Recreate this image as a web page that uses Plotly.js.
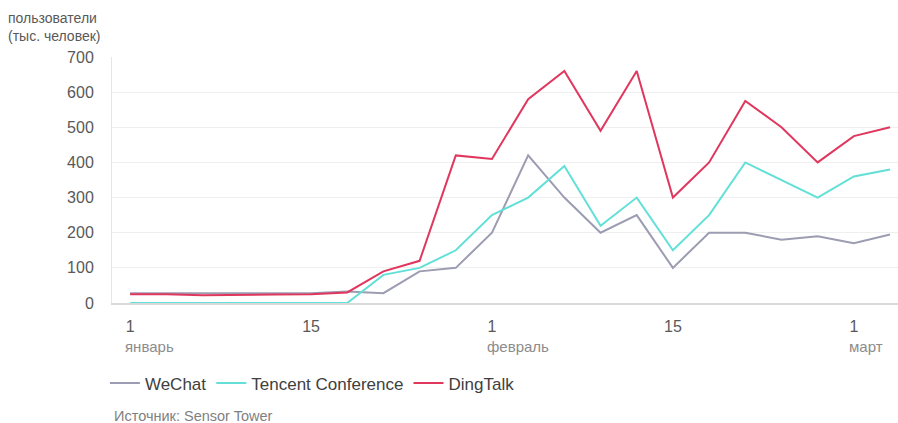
<!DOCTYPE html>
<html>
<head>
<meta charset="utf-8">
<script src="https://cdn.plot.ly/plotly-3.0.1.min.js"></script>
<style>html,body{margin:0;padding:0;background:#fff;}#chart{width:898px;height:423px;}</style>
</head>
<body>
<div id="chart"></div>
<script>
// Data: one point every 3 days, 1 Jan – 3 Mar
var pointIndex = [0,1,2,3,4,5,6,7,8,9,10,11,12,13,14,15,16,17,18,19,20,21];
var wechat   = [28,28,26,26,27,28,33,28,90,100,200,420,300,200,250,100,200,200,180,190,170,195];
var tencent  = [0,0,0,0,0,0,0,80,100,150,250,300,390,220,300,150,250,400,350,300,360,380];
var dingtalk = [25,25,22,22,24,25,30,90,120,420,410,580,660,490,660,300,400,575,500,400,475,500];
var seriesNames = ["WeChat", "Tencent Conference", "DingTalk"];
var tickPos = [0, 5, 10, 15, 20];
var tickLabels = ["1", "15", "1", "15", "1"];
var monthPos = [0, 10, 20];
var monthLabels = ["январь", "февраль", "март"];
var yTicks = [0,100,200,300,400,500,600,700];
var yTitle = "пользователи<br>(тыс. человек)";
var source = "Источник: Sensor Tower";

var FONT = "Liberation Sans, Arial, sans-serif";
var colors = ["#9c9cb2", "#62e0d8", "#e0375e"];
var vals = [wechat, tencent, dingtalk];
var traces = vals.map(function(v, i){
  return {x: pointIndex, y: v, name: seriesNames[i], type: "scatter", mode: "lines",
          line: {color: colors[i], width: 2}, hoverinfo: "skip"};
});

var annotations = [{
  text: yTitle, xref: "paper", yref: "paper", x: -0.1345, y: 1.2, xanchor: "left", yanchor: "top",
  align: "left", showarrow: false, font: {family: FONT, size: 14, color: "#595959"}
},{
  text: source, xref: "paper", yref: "paper", x: 0.0, y: -0.46, xanchor: "left", yanchor: "middle",
  showarrow: false, font: {family: FONT, size: 14.5, color: "#7f7f7f"}
}];
monthPos.forEach(function(p, i){
  annotations.push({text: monthLabels[i], xref: "x", yref: "paper", x: p, y: -0.177,
    xanchor: "left", yanchor: "middle", xshift: -7, showarrow: false,
    font: {family: FONT, size: 15, color: "#8c8c8c"}});
});

var layout = {
  width: 898, height: 423,
  margin: {l: 112, r: 0, t: 57, b: 120, pad: 0},
  paper_bgcolor: "#fff", plot_bgcolor: "#fff",
  font: {family: FONT, color: "#595959"},
  showlegend: true,
  legend: {orientation: "h", x: -0.009, xanchor: "left", y: -0.327, yanchor: "middle",
           font: {family: FONT, size: 17, color: "#404040"}, bgcolor: "rgba(0,0,0,0)"},
  xaxis: {range: [-0.5, 21.22], tickmode: "array", tickvals: tickPos, ticktext: tickLabels,
          showgrid: false, zeroline: false, showline: true, linecolor: "#d9d9d9", linewidth: 1.5,
          ticks: "", ticklabelstandoff: 8, tickfont: {family: FONT, size: 16, color: "#595959"}},
  yaxis: {range: [0, 700], tickmode: "array", tickvals: yTicks, showgrid: true, gridcolor: "#efefef",
          gridwidth: 1, zeroline: false, showline: true, linecolor: "#e6e6e6", linewidth: 1,
          ticks: "", ticklabelstandoff: 14, tickfont: {family: FONT, size: 16, color: "#595959"}},
  annotations: annotations
};
Plotly.newPlot("chart", traces, layout, {staticPlot: true, displayModeBar: false});
</script>
</body>
</html>
